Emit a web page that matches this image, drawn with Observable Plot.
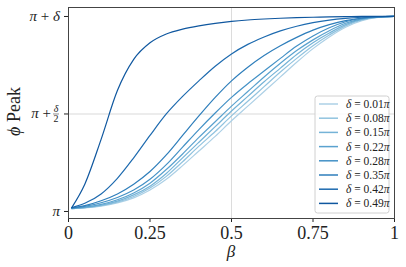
<!DOCTYPE html>
<html>
<head>
<meta charset="utf-8">
<script src="https://cdn.jsdelivr.net/npm/d3@7"></script>
<script src="https://cdn.jsdelivr.net/npm/@observablehq/plot@0.6"></script>
<style>
  html, body { margin: 0; padding: 0; background: #fff; }
  #chart { width: 406px; height: 267px; }
</style>
</head>
<body>
<div id="chart"></div>
<script>
// ---- data ----
const beta = [0.01, 0.05, 0.1, 0.15, 0.2, 0.25, 0.3, 0.35, 0.4, 0.45, 0.5, 0.55, 0.6, 0.65, 0.7, 0.75, 0.8, 0.85, 0.9, 0.95, 1.0];
const deltaLabels = ["0.01", "0.08", "0.15", "0.22", "0.28", "0.35", "0.42", "0.49"];
const peak001 = [0.015, 0.018, 0.027, 0.044, 0.07, 0.11, 0.165, 0.235, 0.31, 0.385, 0.465, 0.54, 0.615, 0.69, 0.765, 0.835, 0.895, 0.945, 0.978, 0.995, 1.0];
const peak008 = [0.015, 0.019, 0.03, 0.048, 0.077, 0.12, 0.18, 0.255, 0.335, 0.41, 0.49, 0.565, 0.64, 0.715, 0.785, 0.85, 0.905, 0.952, 0.982, 0.996, 1.0];
const peak015 = [0.015, 0.02, 0.032, 0.053, 0.085, 0.13, 0.195, 0.275, 0.355, 0.435, 0.515, 0.59, 0.665, 0.735, 0.805, 0.865, 0.915, 0.958, 0.985, 0.997, 1.0];
const peak022 = [0.016, 0.022, 0.036, 0.06, 0.095, 0.145, 0.215, 0.295, 0.38, 0.46, 0.54, 0.615, 0.69, 0.76, 0.825, 0.88, 0.927, 0.965, 0.988, 0.998, 1.0];
const peak028 = [0.017, 0.026, 0.045, 0.072, 0.11, 0.165, 0.24, 0.33, 0.42, 0.505, 0.585, 0.655, 0.72, 0.785, 0.848, 0.9, 0.942, 0.973, 0.991, 0.998, 1.0];
const peak035 = [0.018, 0.03, 0.055, 0.09, 0.14, 0.205, 0.29, 0.39, 0.49, 0.585, 0.67, 0.74, 0.8, 0.85, 0.893, 0.93, 0.958, 0.979, 0.992, 0.998, 1.0];
const peak042 = [0.02, 0.042, 0.09, 0.17, 0.275, 0.39, 0.5, 0.59, 0.67, 0.745, 0.808, 0.857, 0.895, 0.926, 0.95, 0.968, 0.981, 0.99, 0.996, 0.999, 1.0];
const peak049 = [0.02, 0.14, 0.37, 0.62, 0.78, 0.865, 0.91, 0.935, 0.952, 0.965, 0.975, 0.982, 0.987, 0.991, 0.994, 0.996, 0.998, 0.999, 1.0, 1.0, 1.0];
const series = [peak001, peak008, peak015, peak022, peak028, peak035, peak042, peak049];
const xTicks = [0, 0.25, 0.5, 0.75, 1];
const xTickLabels = ["0", "0.25", "0.5", "0.75", "1"];
const yTicks = [0, 0.5, 1];
const gridX = [0.5];
const gridY = [0.5];

// ---- build table ----
const rows = deltaLabels.flatMap((d, i) => beta.map((b, j) => ({beta: b, peak: series[i][j], delta: d})));
const colors = deltaLabels.map((d, i) => d3.interpolateBlues(0.33 + 0.52 * i / (deltaLabels.length - 1)));

const FONT = "'Liberation Serif', 'DejaVu Serif', serif";

const plot = Plot.plot({
  width: 406,
  height: 267,
  marginLeft: 68,
  marginRight: 12,
  marginTop: 7,
  marginBottom: 49,
  style: {fontFamily: FONT, background: "#fff", color: "#222"},
  x: {domain: [0, 1], ticks: xTicks, tickFormat: (d) => xTickLabels[xTicks.indexOf(d)], tickSize: 4, tickPadding: 4, label: null},
  y: {domain: [-0.036, 1.046], ticks: yTicks, tickFormat: () => "", tickSize: 4, label: null},
  color: {domain: deltaLabels, range: colors},
  marks: [
    Plot.ruleX(gridX, {stroke: "#dcdcdc", strokeWidth: 1}),
    Plot.ruleY(gridY, {stroke: "#e6e6e6", strokeWidth: 1.5}),
    Plot.line(rows, {x: "beta", y: "peak", z: "delta", stroke: "delta", strokeWidth: 1.2, curve: "monotone-x"}),
    Plot.frame({stroke: "#444", strokeWidth: 1})
  ]
});

document.getElementById("chart").appendChild(plot);

const svg = d3.select(plot);
svg.selectAll("text").filter(function() { return xTickLabels.includes(this.textContent); })
  .attr("font-size", 18).style("font-size", "18px");

const ys = plot.scale("y");
const xs = plot.scale("x");
const left = 68;
const g = svg.append("g").attr("font-family", FONT).attr("fill", "#222");

const rightEdge = left - 8;
g.append("text").attr("x", rightEdge).attr("y", ys.apply(0)).attr("dy", "0.32em")
  .attr("text-anchor", "end").attr("font-size", 15).attr("font-style", "italic").text("π");
const t1 = g.append("text").attr("x", rightEdge).attr("y", ys.apply(1)).attr("dy", "0.32em")
  .attr("text-anchor", "end").attr("font-size", 15);
t1.append("tspan").attr("font-style", "italic").text("π");
t1.append("tspan").text("\u2005+\u2005");
t1.append("tspan").attr("font-style", "italic").text("δ");
const ym = ys.apply(0.5);
const fracX = rightEdge - 4;
const t2 = g.append("text").attr("x", rightEdge - 9).attr("y", ym).attr("dy", "0.32em")
  .attr("text-anchor", "end").attr("font-size", 15);
t2.append("tspan").attr("font-style", "italic").text("π");
t2.append("tspan").text("\u2005+");
g.append("text").attr("x", fracX).attr("y", ym - 1.5).attr("text-anchor", "middle")
  .attr("font-size", 10).attr("font-style", "italic").text("δ");
g.append("line").attr("x1", fracX - 3).attr("x2", fracX + 3).attr("y1", ym + 0.5).attr("y2", ym + 0.5)
  .attr("stroke", "#222").attr("stroke-width", 0.5);
g.append("text").attr("x", fracX).attr("y", ym + 8.5).attr("text-anchor", "middle")
  .attr("font-size", 10).text("2");

g.append("text").attr("x", xs.apply(0.5)).attr("y", 257).attr("text-anchor", "middle")
  .attr("font-size", 17).attr("font-style", "italic").text("β");
const yl = g.append("text").attr("transform", `translate(20,${ym - 2}) rotate(-90)`).attr("text-anchor", "middle")
  .attr("font-size", 18);
yl.append("tspan").attr("font-style", "italic").text("ϕ");
yl.append("tspan").text(" Peak");

// legend
const lg = svg.append("g").attr("font-family", FONT).attr("text-anchor", "start");
lg.append("rect").attr("x", 315).attr("y", 96).attr("width", 74).attr("height", 117).attr("rx", 2.5)
  .attr("fill", "#fff").attr("fill-opacity", 0.85).attr("stroke", "#d0d0d0").attr("stroke-width", 1);
deltaLabels.forEach((d, i) => {
  const y = 104 + i * 14.2;
  lg.append("line").attr("x1", 319).attr("x2", 338).attr("y1", y).attr("y2", y)
    .attr("stroke", plot.scale("color").apply(d)).attr("stroke-width", 1.5);
  const t = lg.append("text").attr("x", 346).attr("y", y).attr("dy", "0.35em").attr("font-size", 11.5)
    .attr("text-anchor", "start").attr("fill", "#222");
  t.append("tspan").attr("font-style", "italic").text("δ");
  t.append("tspan").text("\u2005=\u2005" + d);
  t.append("tspan").attr("font-style", "italic").text("π");
});
</script>
</body>
</html>
